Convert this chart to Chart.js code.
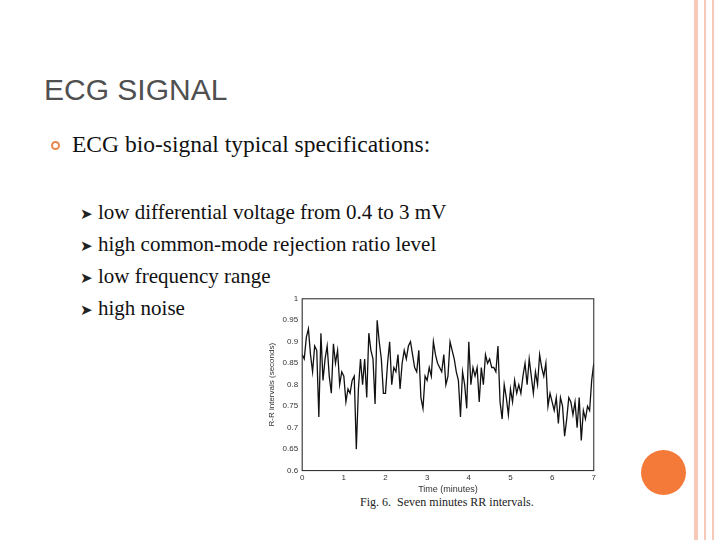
<!DOCTYPE html>
<html><head><meta charset="utf-8">
<script src="https://cdn.jsdelivr.net/npm/chart.js@4/dist/chart.umd.min.js"></script>
<style>
body{margin:0;width:720px;height:540px;position:relative;background:#fff;overflow:hidden;font-family:"Liberation Serif",serif}
.edge{position:absolute;top:0;bottom:0;width:4px;background:#f6c9b8}
h1{position:absolute;left:44px;top:73px;margin:0;font:400 30px "Liberation Sans",sans-serif;color:#505050}
.b1{position:absolute;left:72px;top:131px;font-size:23.5px;color:#111}
.dot{position:absolute;left:51px;top:141px;width:9px;height:9px;border:2px solid #e8874c;border-radius:50%;box-sizing:border-box}
ul{position:absolute;left:80px;top:197px;margin:0;padding:0;list-style:none;font-size:21px;line-height:30px;color:#111}
ul li span{display:inline-block;width:18px;font-size:15px;color:#222}
.circ{position:absolute;left:641px;top:450px;width:45px;height:45px;border-radius:50%;background:#f47a3a}
#wrap{position:absolute;left:265px;top:290px;width:333px;height:205px}
.cap{position:absolute;left:360px;top:495px;font-size:12px;color:#222}
</style></head><body>
<div class="edge" style="left:694px"></div>
<div class="edge" style="left:704px;width:2px"></div>
<div class="edge" style="left:712px;width:2px"></div>
<h1>ECG SIGNAL</h1>
<div class="dot"></div>
<div class="b1">ECG bio-signal typical specifications:</div>
<ul>
<li><span>&#10148;</span>low differential voltage from 0.4 to 3 mV</li>
<li><span>&#10148;</span>high common-mode rejection ratio level</li>
<li><span>&#10148;</span>low frequency range</li>
<li><span>&#10148;</span>high noise</li>
</ul>
<div id="wrap"><canvas id="c"></canvas></div>
<div class="cap">Fig. 6.&nbsp; Seven minutes RR intervals.</div>
<div class="circ"></div>
<script>
const rrValues = [0.87,0.86,0.91,0.93,0.87,0.83,0.89,0.88,0.725,0.92,0.81,0.86,0.89,0.82,0.78,0.895,0.85,0.88,0.80,0.83,
0.82,0.76,0.79,0.78,0.81,0.82,0.65,0.79,0.86,0.80,0.86,0.77,0.92,0.88,0.86,0.755,0.95,0.90,0.86,0.78,
0.78,0.85,0.90,0.80,0.84,0.83,0.87,0.79,0.85,0.88,0.86,0.89,0.90,0.87,0.84,0.83,0.88,0.77,0.745,0.82,
0.81,0.84,0.82,0.90,0.87,0.85,0.84,0.83,0.87,0.80,0.82,0.90,0.88,0.86,0.83,0.81,0.725,0.83,0.80,0.745,
0.90,0.80,0.84,0.82,0.84,0.76,0.84,0.80,0.87,0.85,0.86,0.84,0.84,0.83,0.89,0.76,0.72,0.80,0.77,0.73,
0.79,0.76,0.81,0.78,0.80,0.78,0.82,0.85,0.80,0.86,0.82,0.78,0.83,0.80,0.87,0.84,0.82,0.85,0.75,0.78,
0.76,0.74,0.77,0.71,0.77,0.75,0.68,0.72,0.77,0.76,0.73,0.76,0.70,0.77,0.67,0.74,0.72,0.75,0.74,0.81,0.85];
const timeStep = 0.05; // minutes between readings
const xTicks = [0,1,2,3,4,5,6,7];
const yTicks = [0.6,0.65,0.7,0.75,0.8,0.85,0.9,0.95,1];

const points = rrValues.map((v, i) => ({ x: +(i * timeStep).toFixed(2), y: v }));

const frame = {
    id: 'frame',
    afterDraw(chart) {
        const a = chart.chartArea, ctx = chart.ctx;
        ctx.save();
        ctx.strokeStyle = '#222'; ctx.lineWidth = 1;
        ctx.strokeRect(a.left, a.top, a.right - a.left, a.bottom - a.top);
        ctx.restore();
    }
};

new Chart(document.getElementById('c'), {
    type: 'line',
    data: { datasets: [{ data: points, borderColor: '#111', borderWidth: 1.3, pointRadius: 0, tension: 0 }] },
    options: {
        animation: false, responsive: true, maintainAspectRatio: false,
        plugins: { legend: { display: false }, tooltip: { enabled: false } },
        scales: {
            x: {
                type: 'linear', min: 0, max: 7,
                afterBuildTicks: s => { s.ticks = xTicks.map(v => ({ value: v })); },
                grid: { display: false, drawTicks: false },
                ticks: { color: '#333', font: { size: 8, family: 'Liberation Sans' }, padding: 2, maxRotation: 0 },
                title: { display: true, text: 'Time (minutes)', color: '#333', font: { size: 9, family: 'Liberation Sans' }, padding: 0 }
            },
            y: {
                min: 0.6, max: 1,
                afterBuildTicks: s => { s.ticks = yTicks.map(v => ({ value: v })); },
                grid: { display: false, drawTicks: false },
                ticks: { color: '#333', font: { size: 8, family: 'Liberation Sans' }, padding: 4,
                    callback: v => v === 1 ? '1' : v.toString() },
                title: { display: true, text: 'R-R intervals (seconds)', color: '#333', font: { size: 8, family: 'Liberation Sans' }, padding: 2 }
            }
        }
    },
    plugins: [frame]
});
</script>
</body></html>
